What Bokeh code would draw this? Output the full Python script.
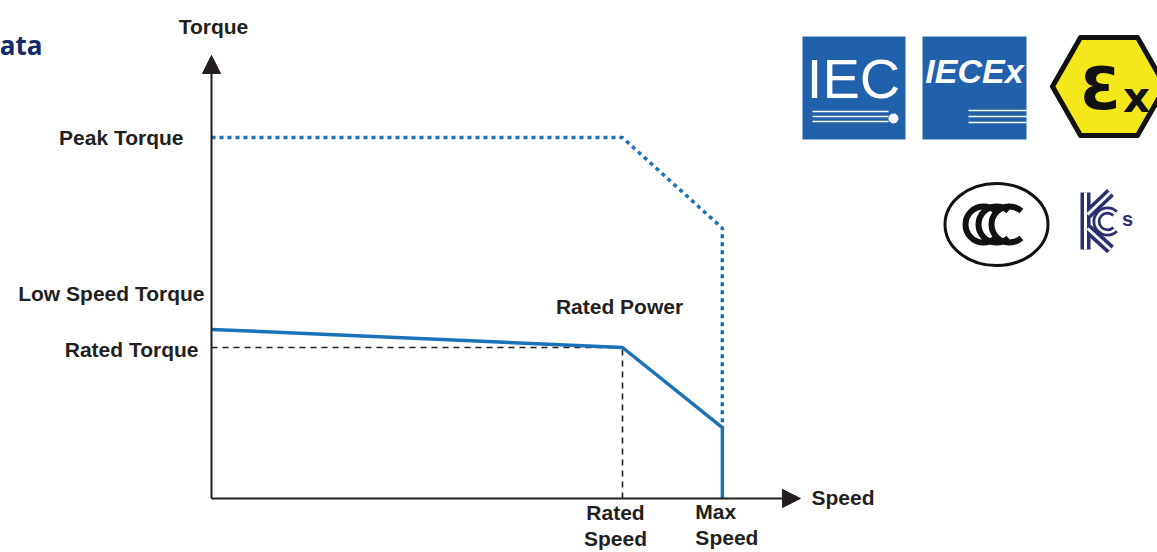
from bokeh.plotting import figure
from bokeh.models import Range1d, Arrow, NormalHead
from bokeh.core.properties import value
from bokeh.embed import file_html
from bokeh.resources import INLINE

# ---------------- data (schematic units: rated speed = 1, rated torque = 1) -------------
rated_speed = 1.0
max_speed = 1.243
rated_torque = 1.0
low_speed_torque = 1.12
peak_torque = 2.39
peak_torque_at_max = 1.79
torque_at_max = 0.47

cont_speed = [0.0, rated_speed, max_speed, max_speed]
cont_torque = [low_speed_torque, rated_torque, torque_at_max, 0.0]
peak_speed = [0.0, rated_speed, max_speed, max_speed]
peak_torque_curve = [peak_torque, peak_torque, peak_torque_at_max, torque_at_max]

axis_speed_end = 1.433
axis_torque_end = 2.934

y_labels = ["Peak Torque", "Low Speed Torque", "Rated Torque"]
x_labels = ["Rated\nSpeed", "Max\nSpeed"]

# ---------------- layout --------------------------------------------------------------
W, H = 1157, 552
X0, Y0 = 211, 498          # canvas position of the origin
XS, YS = 411.0, 151.0      # pixels per unit

def sx(px):   # picture px -> data x
    return (px - X0) / XS

def sy(py):   # picture py -> data y
    return (Y0 - py) / YS

p = figure(width=W, height=H, output_backend="svg", toolbar_location=None,
           x_range=Range1d(-X0 / XS, (W - X0) / XS),
           y_range=Range1d(-(H - Y0) / YS, Y0 / YS),
           min_border=0, outline_line_color=None)
p.axis.visible = False
p.grid.visible = False
p.background_fill_color = "white"
p.border_fill_color = "white"

BLUE = "#1b72b8"
INK = "#231f20"
FONT = value("Liberation Sans")

# reference dashed lines
p.line([0, rated_speed], [rated_torque, rated_torque], line_color=INK, line_width=1.6, line_dash="6 5")
p.line([rated_speed, rated_speed], [0, rated_torque], line_color=INK, line_width=1.6, line_dash="6 5")

# axes
p.add_layout(Arrow(end=NormalHead(size=18, fill_color=INK, line_color=INK),
                   x_start=0, y_start=0, x_end=axis_speed_end, y_end=0,
                   line_color=INK, line_width=2))
p.add_layout(Arrow(end=NormalHead(size=18, fill_color=INK, line_color=INK),
                   x_start=0, y_start=0, x_end=0, y_end=axis_torque_end,
                   line_color=INK, line_width=2))

# curves
p.line(peak_speed, peak_torque_curve, line_color=BLUE, line_width=3.5, line_dash="4 4")
p.line(cont_speed, cont_torque, line_color=BLUE, line_width=3.5)

# labels
tkw = dict(text_font=FONT, text_font_style="bold", text_font_size="21px", text_color=INK)
p.text([0], [axis_torque_end], text=["Torque"], text_align="center", text_baseline="middle",
       x_offset=2, y_offset=-29, **tkw)
p.text([axis_speed_end], [0], text=["Speed"], text_align="left", text_baseline="middle",
       x_offset=11, y_offset=-1, **tkw)
p.text([0], [peak_torque], text=[y_labels[0]], text_align="right", text_baseline="middle",
       x_offset=-28, **tkw)
p.text([0], [low_speed_torque], text=[y_labels[1]], text_align="right", text_baseline="middle",
       x_offset=-7, y_offset=-36, **tkw)
p.text([0], [rated_torque], text=[y_labels[2]], text_align="right", text_baseline="middle",
       x_offset=-13, y_offset=2, **tkw)
p.text([rated_speed], [rated_torque], text=["Rated Power"], text_align="center", text_baseline="middle",
       x_offset=-3, y_offset=-41, **tkw)
p.text([rated_speed], [0], text=[x_labels[0]], text_align="center", text_baseline="middle",
       x_offset=-7, y_offset=27, line_height=1.1, **tkw)
p.text([max_speed], [0], text=[x_labels[1]], text_align="left", text_baseline="middle",
       x_offset=-27, y_offset=26, line_height=1.1, **tkw)

# cut-off heading
p.text([sx(42)], [sy(44)], text=["ata"], text_align="right", text_baseline="middle",
       text_font=value("Open Sans"), text_font_style="bold", text_font_size="26px",
       text_color="#13296b")

# ---------------- certification logos -----------------------------------------------
LOGO_BLUE = "#2161ab"
# IEC
p.quad(left=[sx(802)], right=[sx(905)], top=[sy(36)], bottom=[sy(139)], fill_color=LOGO_BLUE, line_color=None)
p.text([sx(853)], [sy(78)], text=["IEC"], text_align="center", text_baseline="middle",
       text_font=value("Liberation Sans"), text_font_size="56px", text_color="white")
for yy in (111, 116, 121):
    p.line([sx(812), sx(888)], [sy(yy), sy(yy)], line_color="white", line_width=1.6)
p.scatter([sx(893)], [sy(118)], size=10, fill_color="white", line_color=None)

# IECEx
p.quad(left=[sx(922)], right=[sx(1026)], top=[sy(36)], bottom=[sy(139)], fill_color=LOGO_BLUE, line_color=None)
p.arc([sx(1000)], [sy(95)], radius=58, radius_units="screen", start_angle=-1.2, end_angle=1.0,
      line_color="white", line_alpha=0.35, line_width=6)
p.text([sx(974)], [sy(70)], text=["IECEx"], text_align="center", text_baseline="middle",
       text_font=value("Liberation Sans"), text_font_style="bold italic", text_font_size="34px",
       text_color="white")
for yy in (110, 116, 122):
    p.line([sx(968), sx(1026)], [sy(yy), sy(yy)], line_color="white", line_width=1.6)

# Ex hexagon
hex_x = [1080, 1137, 1165, 1137, 1080, 1052]
hex_y = [37, 37, 86, 135, 135, 86]
p.patch([sx(v) for v in hex_x], [sy(v) for v in hex_y], fill_color="#f4e81a",
        line_color="#111111", line_width=5, line_join="round")
p.text([sx(1100)], [sy(88)], text=["Ɛ"], text_align="center", text_baseline="middle",
       text_font=value("DejaVu Sans"), text_font_style="bold", text_font_size="58px", text_color="#111111")
p.text([sx(1136)], [sy(97)], text=["x"], text_align="center", text_baseline="middle",
       text_font=value("DejaVu Sans"), text_font_style="bold", text_font_size="42px", text_color="#111111")

# CCC
p.ellipse([sx(996)], [sy(224)], width=103, height=82, width_units="screen", height_units="screen",
          fill_color="white", line_color="#111111", line_width=3)
for cx in (983, 996, 1009):
    p.arc([sx(cx)], [sy(224)], radius=18, radius_units="screen", start_angle=0.85, end_angle=-0.85,
          line_color="#111111", line_width=6)

# KCs
NAVY = "#2b2f6f"
kx = [[1085, 1085], [1087, 1110], [1087, 1110]]
ky = [[192, 249], [214, 192], [228, 249]]
p.multi_line([[sx(v) for v in a] for a in kx], [[sy(v) for v in a] for a in ky],
             line_color=NAVY, line_width=10)
p.multi_line([[sx(v) for v in a] for a in kx], [[sy(v) for v in a] for a in ky],
             line_color="white", line_width=3)
p.arc([sx(1107)], [sy(221)], radius=11, radius_units="screen", start_angle=0.8, end_angle=-0.8,
      line_color=NAVY, line_width=8)
p.arc([sx(1107)], [sy(221)], radius=11, radius_units="screen", start_angle=0.8, end_angle=-0.8,
      line_color="white", line_width=2.5)
p.text([sx(1127)], [sy(218)], text=["s"], text_align="center", text_baseline="middle",
       text_font=value("Liberation Sans"), text_font_style="bold", text_font_size="20px",
       text_color=NAVY)

open("out.html", "w").write(file_html(p, INLINE))
